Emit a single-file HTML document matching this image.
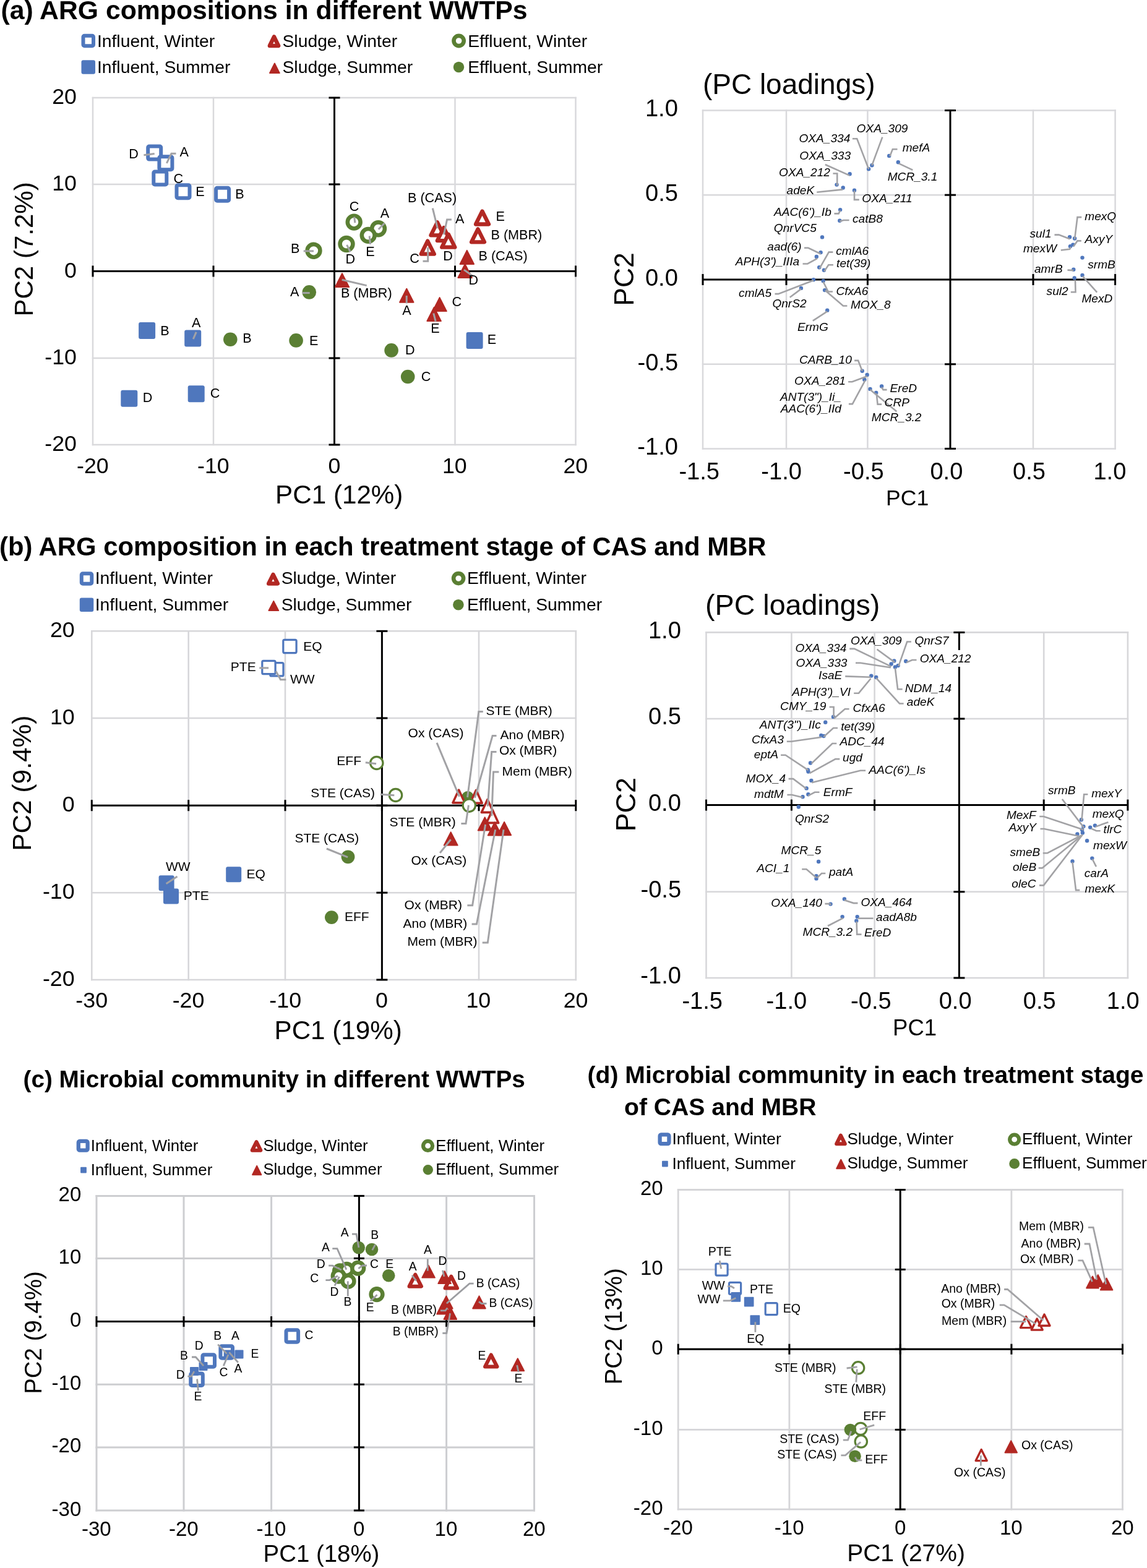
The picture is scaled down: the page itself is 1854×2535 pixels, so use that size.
<!DOCTYPE html>
<html><head><meta charset="utf-8"><title>PCA of ARG compositions and microbial communities</title>
<style>
html,body{margin:0;padding:0;background:#fff;}
svg{display:block;font-family:"Liberation Sans",Arial,Helvetica,sans-serif;}
</style></head><body>
<svg width="1854" height="2535" viewBox="0 0 1854 2535">
<rect width="1854" height="2535" fill="#fff"/>
<text x="1.5" y="31.2" font-size="42.75" text-anchor="start" font-weight="bold">(a) ARG compositions in different WWTPs</text>
<rect x="134.5" y="57.8" width="16.5" height="16.5" rx="2" fill="#fff" stroke="#4F77BD" stroke-width="6"/>
<text x="156.9" y="76" font-size="28.3" text-anchor="start">Influent, Winter</text>
<polygon points="443,59.5 450.1,74 435.9,74" fill="#fff" stroke="#B22823" stroke-width="6.5" stroke-linejoin="round"/>
<text x="456.5" y="76" font-size="28.3" text-anchor="start">Sludge, Winter</text>
<circle cx="741.6" cy="66" r="8.1" fill="#fff" stroke="#5A7F33" stroke-width="6.6"/>
<text x="756.2" y="76" font-size="28.3" text-anchor="start">Effluent, Winter</text>
<rect x="131.5" y="97.2" width="22.5" height="22.5" rx="3" fill="#4F77BD"/>
<text x="156.9" y="118.1" font-size="28.3" text-anchor="start">Influent, Summer</text>
<polygon points="443.9,102.5 451.8,118.1 436,118.1" fill="#B22823" stroke="#B22823" stroke-width="2" stroke-linejoin="round"/>
<text x="456.5" y="118.1" font-size="28.3" text-anchor="start">Sludge, Summer</text>
<circle cx="741.5" cy="108.5" r="8.7" fill="#5A7F33"/>
<text x="756.2" y="118.1" font-size="28.3" text-anchor="start">Effluent, Summer</text>
<line x1="150" y1="156.8" x2="150" y2="720.2" stroke="#D9D9DC" stroke-width="2.5"/>
<line x1="345" y1="156.8" x2="345" y2="720.2" stroke="#D9D9DC" stroke-width="2.5"/>
<line x1="540.5" y1="156.8" x2="540.5" y2="720.2" stroke="#D9D9DC" stroke-width="2.5"/>
<line x1="735.5" y1="156.8" x2="735.5" y2="720.2" stroke="#D9D9DC" stroke-width="2.5"/>
<line x1="930.5" y1="156.8" x2="930.5" y2="720.2" stroke="#D9D9DC" stroke-width="2.5"/>
<line x1="148.8" y1="158" x2="931.8" y2="158" stroke="#D9D9DC" stroke-width="2.5"/>
<line x1="148.8" y1="298" x2="931.8" y2="298" stroke="#D9D9DC" stroke-width="2.5"/>
<line x1="148.8" y1="438.5" x2="931.8" y2="438.5" stroke="#D9D9DC" stroke-width="2.5"/>
<line x1="148.8" y1="579" x2="931.8" y2="579" stroke="#D9D9DC" stroke-width="2.5"/>
<line x1="148.8" y1="719" x2="931.8" y2="719" stroke="#D9D9DC" stroke-width="2.5"/>
<line x1="150" y1="438.5" x2="930.5" y2="438.5" stroke="#000" stroke-width="3"/>
<line x1="540.5" y1="158" x2="540.5" y2="719" stroke="#000" stroke-width="3"/>
<line x1="150" y1="429.5" x2="150" y2="447.5" stroke="#000" stroke-width="3"/>
<line x1="345" y1="429.5" x2="345" y2="447.5" stroke="#000" stroke-width="3"/>
<line x1="540.5" y1="429.5" x2="540.5" y2="447.5" stroke="#000" stroke-width="3"/>
<line x1="735.5" y1="429.5" x2="735.5" y2="447.5" stroke="#000" stroke-width="3"/>
<line x1="930.5" y1="429.5" x2="930.5" y2="447.5" stroke="#000" stroke-width="3"/>
<line x1="531.5" y1="158" x2="549.5" y2="158" stroke="#000" stroke-width="3"/>
<line x1="531.5" y1="298" x2="549.5" y2="298" stroke="#000" stroke-width="3"/>
<line x1="531.5" y1="438.5" x2="549.5" y2="438.5" stroke="#000" stroke-width="3"/>
<line x1="531.5" y1="579" x2="549.5" y2="579" stroke="#000" stroke-width="3"/>
<line x1="531.5" y1="719" x2="549.5" y2="719" stroke="#000" stroke-width="3"/>
<text x="84.2" y="168" font-size="35.7" text-anchor="start">20</text>
<text x="84.2" y="308" font-size="35.7" text-anchor="start">10</text>
<text x="104" y="448.5" font-size="35.7" text-anchor="start">0</text>
<text x="72.3" y="589" font-size="35.7" text-anchor="start">-10</text>
<text x="72.3" y="729" font-size="35.7" text-anchor="start">-20</text>
<text x="124" y="764.5" font-size="35.7" text-anchor="start">-20</text>
<text x="319" y="764.5" font-size="35.7" text-anchor="start">-10</text>
<text x="530.5" y="764.5" font-size="35.7" text-anchor="start">0</text>
<text x="715" y="764.5" font-size="35.7" text-anchor="start">10</text>
<text x="910.4" y="764.5" font-size="35.7" text-anchor="start">20</text>
<text x="445.1" y="814" font-size="42.2" text-anchor="start">PC1 (12%)</text>
<text x="0" y="0" font-size="42.05" transform="translate(53,511.6) rotate(-90)">PC2 (7.2%)</text>
<rect x="239.2" y="236.6" width="21" height="21" rx="2" fill="#fff" stroke="#4F77BD" stroke-width="6"/>
<rect x="257.4" y="253.3" width="21" height="21" rx="2" fill="#fff" stroke="#4F77BD" stroke-width="6"/>
<rect x="248.3" y="277.5" width="21" height="21" rx="2" fill="#fff" stroke="#4F77BD" stroke-width="6"/>
<rect x="285.5" y="299.3" width="21" height="21" rx="2" fill="#fff" stroke="#4F77BD" stroke-width="6"/>
<rect x="349.1" y="303.8" width="21" height="21" rx="2" fill="#fff" stroke="#4F77BD" stroke-width="6"/>
<rect x="224.1" y="521" width="27" height="27" rx="3" fill="#4F77BD"/>
<rect x="298.2" y="533.4" width="27" height="27" rx="3" fill="#4F77BD"/>
<rect x="195.3" y="630.8" width="27" height="27" rx="3" fill="#4F77BD"/>
<rect x="303.7" y="623.3" width="27" height="27" rx="3" fill="#4F77BD"/>
<rect x="753.6" y="537.1" width="27" height="27" rx="3" fill="#4F77BD"/>
<circle cx="572.2" cy="359.1" r="10.4" fill="#fff" stroke="#5A7F33" stroke-width="6.6"/>
<circle cx="611.5" cy="369.8" r="10.4" fill="#fff" stroke="#5A7F33" stroke-width="6.6"/>
<circle cx="595.2" cy="380.4" r="10.4" fill="#fff" stroke="#5A7F33" stroke-width="6.6"/>
<circle cx="560" cy="394.5" r="10.4" fill="#fff" stroke="#5A7F33" stroke-width="6.6"/>
<circle cx="507" cy="405.3" r="10.4" fill="#fff" stroke="#5A7F33" stroke-width="6.6"/>
<circle cx="499.8" cy="472.4" r="11.3" fill="#5A7F33"/>
<circle cx="478.6" cy="550.4" r="11.3" fill="#5A7F33"/>
<circle cx="632.6" cy="566.4" r="11.3" fill="#5A7F33"/>
<circle cx="659.2" cy="609" r="11.3" fill="#5A7F33"/>
<circle cx="372.3" cy="548.7" r="11.3" fill="#5A7F33"/>
<polygon points="706.9,359.3 717.4,380.3 696.4,380.3" fill="#fff" stroke="#B22823" stroke-width="6.3" stroke-linejoin="round"/>
<polygon points="717.3,368.1 727.8,389.1 706.8,389.1" fill="#fff" stroke="#B22823" stroke-width="6.3" stroke-linejoin="round"/>
<polygon points="724.8,378.7 735.3,399.7 714.2,399.7" fill="#fff" stroke="#B22823" stroke-width="6.3" stroke-linejoin="round"/>
<polygon points="691.2,389.6 701.8,410.6 680.7,410.6" fill="#fff" stroke="#B22823" stroke-width="6.3" stroke-linejoin="round"/>
<polygon points="779.5,341.5 790,362.5 769,362.5" fill="#fff" stroke="#B22823" stroke-width="6.3" stroke-linejoin="round"/>
<polygon points="772.5,370.3 783,391.3 762,391.3" fill="#fff" stroke="#B22823" stroke-width="6.3" stroke-linejoin="round"/>
<polygon points="751.6,427 762.8,449 740.4,449" fill="#B22823" stroke="#B22823" stroke-width="2" stroke-linejoin="round"/>
<polygon points="754.8,404.9 766,426.9 743.6,426.9" fill="#B22823" stroke="#B22823" stroke-width="2" stroke-linejoin="round"/>
<polygon points="553,442.1 564.2,464.1 541.8,464.1" fill="#B22823" stroke="#B22823" stroke-width="2" stroke-linejoin="round"/>
<polygon points="657.3,466.7 668.5,488.7 646.1,488.7" fill="#B22823" stroke="#B22823" stroke-width="2" stroke-linejoin="round"/>
<polygon points="710.6,481.1 721.8,503.1 699.4,503.1" fill="#B22823" stroke="#B22823" stroke-width="2" stroke-linejoin="round"/>
<polygon points="701.6,497 712.8,519 690.4,519" fill="#B22823" stroke="#B22823" stroke-width="2" stroke-linejoin="round"/>
<polyline points="232.4,250.7 249.7,248.6" fill="none" stroke="#A2A2A5" stroke-width="3" stroke-linejoin="miter"/>
<polyline points="284.5,248.3 277,248.3 269.4,263.8" fill="none" stroke="#A2A2A5" stroke-width="3" stroke-linejoin="miter"/>
<polyline points="317.2,536.9 312.3,548.1" fill="none" stroke="#A2A2A5" stroke-width="3" stroke-linejoin="miter"/>
<polyline points="572.6,350.6 573.9,360.2" fill="none" stroke="#A2A2A5" stroke-width="3" stroke-linejoin="miter"/>
<polyline points="621.4,361 611.8,370.8" fill="none" stroke="#A2A2A5" stroke-width="3" stroke-linejoin="miter"/>
<polyline points="597.2,381.5 598.5,394.8" fill="none" stroke="#A2A2A5" stroke-width="3" stroke-linejoin="miter"/>
<polyline points="560.6,395.9 566.3,407.2" fill="none" stroke="#A2A2A5" stroke-width="3" stroke-linejoin="miter"/>
<polyline points="490.7,405.9 507,405.9" fill="none" stroke="#A2A2A5" stroke-width="3" stroke-linejoin="miter"/>
<polyline points="683.5,422.3 691.7,422.3 691.7,400.1" fill="none" stroke="#A2A2A5" stroke-width="3" stroke-linejoin="miter"/>
<polyline points="699.3,336.6 707.3,369.2" fill="none" stroke="#A2A2A5" stroke-width="3" stroke-linejoin="miter"/>
<polyline points="729.9,354.9 722.6,354.9 717.5,379.2" fill="none" stroke="#A2A2A5" stroke-width="3" stroke-linejoin="miter"/>
<polyline points="749.9,436.1 764.5,446.5" fill="none" stroke="#A2A2A5" stroke-width="3" stroke-linejoin="miter"/>
<polyline points="488.7,473.6 500.7,473.6" fill="none" stroke="#A2A2A5" stroke-width="3" stroke-linejoin="miter"/>
<polyline points="552.6,452.3 592.7,461.6" fill="none" stroke="#A2A2A5" stroke-width="3" stroke-linejoin="miter"/>
<polyline points="657.2,478 657.2,490.4" fill="none" stroke="#A2A2A5" stroke-width="3" stroke-linejoin="miter"/>
<polyline points="700.8,506.5 704.1,519.5" fill="none" stroke="#A2A2A5" stroke-width="3" stroke-linejoin="miter"/>
<text x="208.3" y="256" font-size="21.6" text-anchor="start">D</text>
<text x="290.5" y="253" font-size="21.6" text-anchor="start">A</text>
<text x="280.4" y="295.5" font-size="21.6" text-anchor="start">C</text>
<text x="316.3" y="316.7" font-size="21.6" text-anchor="start">E</text>
<text x="380.3" y="321" font-size="21.6" text-anchor="start">B</text>
<text x="259.3" y="542" font-size="21.6" text-anchor="start">B</text>
<text x="310" y="529" font-size="21.6" text-anchor="start">A</text>
<text x="230.7" y="649.5" font-size="21.6" text-anchor="start">D</text>
<text x="339.7" y="642.5" font-size="21.6" text-anchor="start">C</text>
<text x="787.8" y="555.7" font-size="21.6" text-anchor="start">E</text>
<text x="564.8" y="340.6" font-size="21.6" text-anchor="start">C</text>
<text x="614.8" y="351.7" font-size="21.6" text-anchor="start">A</text>
<text x="591.2" y="413.9" font-size="21.6" text-anchor="start">E</text>
<text x="558.6" y="425.8" font-size="21.6" text-anchor="start">D</text>
<text x="469.9" y="409.2" font-size="21.6" text-anchor="start">B</text>
<text x="469.1" y="479.4" font-size="21.6" text-anchor="start">A</text>
<text x="499.9" y="557.5" font-size="21.6" text-anchor="start">E</text>
<text x="654.9" y="573.3" font-size="21.6" text-anchor="start">D</text>
<text x="680.7" y="615.6" font-size="21.6" text-anchor="start">C</text>
<text x="392.3" y="554" font-size="21.6" text-anchor="start">B</text>
<text x="659" y="327.3" font-size="21.6" text-anchor="start">B (CAS)</text>
<text x="735.9" y="360.6" font-size="21.6" text-anchor="start">A</text>
<text x="801.5" y="357.3" font-size="21.6" text-anchor="start">E</text>
<text x="793.5" y="387.2" font-size="21.6" text-anchor="start">B (MBR)</text>
<text x="716.2" y="420.5" font-size="21.6" text-anchor="start">D</text>
<text x="662.2" y="425.2" font-size="21.6" text-anchor="start">C</text>
<text x="773.5" y="420.5" font-size="21.6" text-anchor="start">B (CAS)</text>
<text x="757.6" y="459.5" font-size="21.6" text-anchor="start">D</text>
<text x="550.9" y="481.3" font-size="21.6" text-anchor="start">B (MBR)</text>
<text x="650.2" y="509.4" font-size="21.6" text-anchor="start">A</text>
<text x="730.5" y="494.9" font-size="21.6" text-anchor="start">C</text>
<text x="696.2" y="537.5" font-size="21.6" text-anchor="start">E</text>
<line x1="1136" y1="177.2" x2="1136" y2="726.6" stroke="#D9D9DC" stroke-width="2.5"/>
<line x1="1271" y1="177.2" x2="1271" y2="726.6" stroke="#D9D9DC" stroke-width="2.5"/>
<line x1="1402.4" y1="177.2" x2="1402.4" y2="726.6" stroke="#D9D9DC" stroke-width="2.5"/>
<line x1="1670" y1="177.2" x2="1670" y2="726.6" stroke="#D9D9DC" stroke-width="2.5"/>
<line x1="1802.6" y1="177.2" x2="1802.6" y2="726.6" stroke="#D9D9DC" stroke-width="2.5"/>
<line x1="1134.8" y1="178.5" x2="1803.8" y2="178.5" stroke="#D9D9DC" stroke-width="2.5"/>
<line x1="1134.8" y1="315.2" x2="1803.8" y2="315.2" stroke="#D9D9DC" stroke-width="2.5"/>
<line x1="1134.8" y1="588.8" x2="1803.8" y2="588.8" stroke="#D9D9DC" stroke-width="2.5"/>
<line x1="1134.8" y1="725.4" x2="1803.8" y2="725.4" stroke="#D9D9DC" stroke-width="2.5"/>
<line x1="1136" y1="452" x2="1802.6" y2="452" stroke="#000" stroke-width="3"/>
<line x1="1536" y1="178.5" x2="1536" y2="725.4" stroke="#000" stroke-width="3"/>
<line x1="1136" y1="443" x2="1136" y2="461" stroke="#000" stroke-width="3"/>
<line x1="1271" y1="443" x2="1271" y2="461" stroke="#000" stroke-width="3"/>
<line x1="1402.4" y1="443" x2="1402.4" y2="461" stroke="#000" stroke-width="3"/>
<line x1="1670" y1="443" x2="1670" y2="461" stroke="#000" stroke-width="3"/>
<line x1="1802.6" y1="443" x2="1802.6" y2="461" stroke="#000" stroke-width="3"/>
<line x1="1527" y1="178.5" x2="1545" y2="178.5" stroke="#000" stroke-width="3"/>
<line x1="1527" y1="315.2" x2="1545" y2="315.2" stroke="#000" stroke-width="3"/>
<line x1="1527" y1="588.8" x2="1545" y2="588.8" stroke="#000" stroke-width="3"/>
<line x1="1527" y1="725.4" x2="1545" y2="725.4" stroke="#000" stroke-width="3"/>
<text x="1135.9" y="151.5" font-size="46" text-anchor="start">(PC loadings)</text>
<text x="1042.9" y="188.3" font-size="38.1" text-anchor="start">1.0</text>
<text x="1043.1" y="325" font-size="38.1" text-anchor="start">0.5</text>
<text x="1042.9" y="461.8" font-size="38.1" text-anchor="start">0.0</text>
<text x="1030.5" y="598.6" font-size="38.1" text-anchor="start">-0.5</text>
<text x="1030.3" y="735.2" font-size="38.1" text-anchor="start">-1.0</text>
<text x="1097.4" y="774.5" font-size="38.1" text-anchor="start">-1.5</text>
<text x="1230.3" y="774.5" font-size="38.1" text-anchor="start">-1.0</text>
<text x="1363.1" y="774.5" font-size="38.1" text-anchor="start">-0.5</text>
<text x="1503.4" y="774.5" font-size="38.1" text-anchor="start">0.0</text>
<text x="1637" y="774.5" font-size="38.1" text-anchor="start">0.5</text>
<text x="1767.4" y="774.5" font-size="38.1" text-anchor="start">1.0</text>
<text x="1432.1" y="817" font-size="35.5" text-anchor="start">PC1</text>
<text x="0" y="0" font-size="44.5" transform="translate(1023.7,494.7) rotate(-90)">PC2</text>
<circle cx="1409.4" cy="267.2" r="3.2" fill="#4F77BD"/>
<circle cx="1404.1" cy="273.2" r="3.2" fill="#4F77BD"/>
<circle cx="1437.2" cy="251.9" r="3.2" fill="#4F77BD"/>
<circle cx="1451.8" cy="262.3" r="3.2" fill="#4F77BD"/>
<circle cx="1373.6" cy="281.2" r="3.2" fill="#4F77BD"/>
<circle cx="1352.5" cy="298.6" r="3.2" fill="#4F77BD"/>
<circle cx="1362.7" cy="303.5" r="3.2" fill="#4F77BD"/>
<circle cx="1381" cy="307.8" r="3.2" fill="#4F77BD"/>
<circle cx="1358.1" cy="339.1" r="3.2" fill="#4F77BD"/>
<circle cx="1357.3" cy="356.8" r="3.2" fill="#4F77BD"/>
<circle cx="1329" cy="383.4" r="3.2" fill="#4F77BD"/>
<circle cx="1326.6" cy="408.1" r="3.2" fill="#4F77BD"/>
<circle cx="1319.8" cy="414.9" r="3.2" fill="#4F77BD"/>
<circle cx="1324.2" cy="432.3" r="3.2" fill="#4F77BD"/>
<circle cx="1331.9" cy="436.7" r="3.2" fill="#4F77BD"/>
<circle cx="1315" cy="452.2" r="3.2" fill="#4F77BD"/>
<circle cx="1330.7" cy="454.3" r="3.2" fill="#4F77BD"/>
<circle cx="1294.9" cy="465.9" r="3.2" fill="#4F77BD"/>
<circle cx="1333.1" cy="469.1" r="3.2" fill="#4F77BD"/>
<circle cx="1337.2" cy="501.7" r="3.2" fill="#4F77BD"/>
<circle cx="1393.7" cy="599.8" r="3.2" fill="#4F77BD"/>
<circle cx="1401.6" cy="605.9" r="3.2" fill="#4F77BD"/>
<circle cx="1397.3" cy="613.8" r="3.2" fill="#4F77BD"/>
<circle cx="1425.1" cy="624.5" r="3.2" fill="#4F77BD"/>
<circle cx="1406.5" cy="628.9" r="3.2" fill="#4F77BD"/>
<circle cx="1416.2" cy="634.9" r="3.2" fill="#4F77BD"/>
<circle cx="1729.1" cy="383.2" r="3.2" fill="#4F77BD"/>
<circle cx="1737.1" cy="385.5" r="3.2" fill="#4F77BD"/>
<circle cx="1730" cy="398.3" r="3.2" fill="#4F77BD"/>
<circle cx="1734.4" cy="395.6" r="3.2" fill="#4F77BD"/>
<circle cx="1749.5" cy="416.6" r="3.2" fill="#4F77BD"/>
<circle cx="1735.3" cy="435.7" r="3.2" fill="#4F77BD"/>
<circle cx="1749.5" cy="444.9" r="3.2" fill="#4F77BD"/>
<circle cx="1736.7" cy="449.4" r="3.2" fill="#4F77BD"/>
<polyline points="1377.9,224.3 1385.2,224.3 1404.1,273.2" fill="none" stroke="#A2A2A5" stroke-width="2.6" stroke-linejoin="miter"/>
<polyline points="1426.3,221.6 1409.4,267.2" fill="none" stroke="#A2A2A5" stroke-width="2.6" stroke-linejoin="miter"/>
<polyline points="1450.5,241.3 1442.8,241.3 1438.4,252.6" fill="none" stroke="#A2A2A5" stroke-width="2.6" stroke-linejoin="miter"/>
<polyline points="1453,264.3 1475.3,274.9" fill="none" stroke="#A2A2A5" stroke-width="2.6" stroke-linejoin="miter"/>
<polyline points="1333.8,266 1373.1,283.6" fill="none" stroke="#A2A2A5" stroke-width="2.6" stroke-linejoin="miter"/>
<polyline points="1346.4,280.5 1353.2,280.5 1353.2,299.9" fill="none" stroke="#A2A2A5" stroke-width="2.6" stroke-linejoin="miter"/>
<polyline points="1320.3,310.7 1362.2,306.4" fill="none" stroke="#A2A2A5" stroke-width="2.6" stroke-linejoin="miter"/>
<polyline points="1381,308.3 1381,322.9 1388.8,322.9" fill="none" stroke="#A2A2A5" stroke-width="2.6" stroke-linejoin="miter"/>
<polyline points="1348.4,345.4 1355.6,345.4 1358.1,340.3" fill="none" stroke="#A2A2A5" stroke-width="2.6" stroke-linejoin="miter"/>
<polyline points="1372.6,356 1363.4,356 1357.3,358" fill="none" stroke="#A2A2A5" stroke-width="2.6" stroke-linejoin="miter"/>
<polyline points="1300,400.8 1306.5,400.8 1326.6,410.5" fill="none" stroke="#A2A2A5" stroke-width="2.6" stroke-linejoin="miter"/>
<polyline points="1297.5,426.5 1305.3,426.5 1321,417.8" fill="none" stroke="#A2A2A5" stroke-width="2.6" stroke-linejoin="miter"/>
<polyline points="1346.4,407.6 1339.7,407.6 1324.6,434.2" fill="none" stroke="#A2A2A5" stroke-width="2.6" stroke-linejoin="miter"/>
<polyline points="1346.9,428.2 1339.2,428.2 1332.4,438.6" fill="none" stroke="#A2A2A5" stroke-width="2.6" stroke-linejoin="miter"/>
<polyline points="1252.5,475.1 1258.1,475.1 1315,453.3" fill="none" stroke="#A2A2A5" stroke-width="2.6" stroke-linejoin="miter"/>
<polyline points="1276.7,480.7 1294.9,467.1" fill="none" stroke="#A2A2A5" stroke-width="2.6" stroke-linejoin="miter"/>
<polyline points="1346,471.5 1338.7,471.5 1330.7,455.7" fill="none" stroke="#A2A2A5" stroke-width="2.6" stroke-linejoin="miter"/>
<polyline points="1369.4,494.5 1362.9,494.5 1333.8,469.5" fill="none" stroke="#A2A2A5" stroke-width="2.6" stroke-linejoin="miter"/>
<polyline points="1313.8,518.7 1337.2,503.4" fill="none" stroke="#A2A2A5" stroke-width="2.6" stroke-linejoin="miter"/>
<polyline points="1381.1,582.9 1387.1,582.9 1393.7,599.8" fill="none" stroke="#A2A2A5" stroke-width="2.6" stroke-linejoin="miter"/>
<polyline points="1371.1,617.2 1377.4,617.2 1401.6,608.3" fill="none" stroke="#A2A2A5" stroke-width="2.6" stroke-linejoin="miter"/>
<polyline points="1371.9,653.1 1377.9,653.1 1398.5,614.8" fill="none" stroke="#A2A2A5" stroke-width="2.6" stroke-linejoin="miter"/>
<polyline points="1433.6,630.1 1427.6,630.1 1425.1,626" fill="none" stroke="#A2A2A5" stroke-width="2.6" stroke-linejoin="miter"/>
<polyline points="1425.1,653.6 1418.6,653.6 1416.7,636.1" fill="none" stroke="#A2A2A5" stroke-width="2.6" stroke-linejoin="miter"/>
<polyline points="1449.3,665.2 1406.5,630.1" fill="none" stroke="#A2A2A5" stroke-width="2.6" stroke-linejoin="miter"/>
<polyline points="1748.3,351.1 1741.5,351.1 1737.1,386.7" fill="none" stroke="#A2A2A5" stroke-width="2.6" stroke-linejoin="miter"/>
<polyline points="1704.5,379.6 1711.6,379.6 1729.1,386.2" fill="none" stroke="#A2A2A5" stroke-width="2.6" stroke-linejoin="miter"/>
<polyline points="1747.8,389.4 1741.5,389.4 1735.3,398.3" fill="none" stroke="#A2A2A5" stroke-width="2.6" stroke-linejoin="miter"/>
<polyline points="1714.8,404.5 1729.1,402.8 1730.8,399.2" fill="none" stroke="#A2A2A5" stroke-width="2.6" stroke-linejoin="miter"/>
<polyline points="1725.5,436.6 1735.3,437.1" fill="none" stroke="#A2A2A5" stroke-width="2.6" stroke-linejoin="miter"/>
<polyline points="1730.8,472.2 1738.5,472.2 1738,452.6" fill="none" stroke="#A2A2A5" stroke-width="2.6" stroke-linejoin="miter"/>
<polyline points="1773.2,472.7 1750,446.7" fill="none" stroke="#A2A2A5" stroke-width="2.6" stroke-linejoin="miter"/>
<text x="1384.6" y="213.9" font-size="19.1" text-anchor="start" font-style="italic">OXA_309</text>
<text x="1291.5" y="229.6" font-size="19.1" text-anchor="start" font-style="italic">OXA_334</text>
<text x="1458.7" y="245.4" font-size="19.1" text-anchor="start" font-style="italic">mefA</text>
<text x="1434.7" y="291.9" font-size="19.1" text-anchor="start" font-style="italic">MCR_3.1</text>
<text x="1292.3" y="257.5" font-size="19.1" text-anchor="start" font-style="italic">OXA_333</text>
<text x="1259.1" y="284.6" font-size="19.1" text-anchor="start" font-style="italic">OXA_212</text>
<text x="1271.6" y="313.9" font-size="19.1" text-anchor="start" font-style="italic">adeK</text>
<text x="1393.3" y="326.5" font-size="19.1" text-anchor="start" font-style="italic">OXA_211</text>
<text x="1251" y="349" font-size="19.1" text-anchor="start" font-style="italic">AAC(6')_Ib</text>
<text x="1378" y="360.4" font-size="19.1" text-anchor="start" font-style="italic">catB8</text>
<text x="1250.8" y="374.9" font-size="19.1" text-anchor="start" font-style="italic">QnrVC5</text>
<text x="1240.3" y="405.2" font-size="19.1" text-anchor="start" font-style="italic">aad(6)</text>
<text x="1351.2" y="412" font-size="19.1" text-anchor="start" font-style="italic">cmlA6</text>
<text x="1188.7" y="428.7" font-size="19.1" text-anchor="start" font-style="italic">APH(3')_IIIa</text>
<text x="1352.1" y="431.8" font-size="19.1" text-anchor="start" font-style="italic">tet(39)</text>
<text x="1194.1" y="479.5" font-size="19.1" text-anchor="start" font-style="italic">cmlA5</text>
<text x="1248.4" y="497.4" font-size="19.1" text-anchor="start" font-style="italic">QnrS2</text>
<text x="1351.4" y="476.8" font-size="19.1" text-anchor="start" font-style="italic">CfxA6</text>
<text x="1374.9" y="499.3" font-size="19.1" text-anchor="start" font-style="italic">MOX_8</text>
<text x="1288.9" y="534.9" font-size="19.1" text-anchor="start" font-style="italic">ErmG</text>
<text x="1291.9" y="588.2" font-size="19.1" text-anchor="start" font-style="italic">CARB_10</text>
<text x="1284.1" y="621.6" font-size="19.1" text-anchor="start" font-style="italic">OXA_281</text>
<text x="1260.9" y="648.2" font-size="19.1" text-anchor="start" font-style="italic">ANT(3")_Ii_</text>
<text x="1261.8" y="666.9" font-size="19.1" text-anchor="start" font-style="italic">AAC(6')_IId</text>
<text x="1438.6" y="633.7" font-size="19.1" text-anchor="start" font-style="italic">EreD</text>
<text x="1429.6" y="657.2" font-size="19.1" text-anchor="start" font-style="italic">CRP</text>
<text x="1408.8" y="681.4" font-size="19.1" text-anchor="start" font-style="italic">MCR_3.2</text>
<text x="1753.3" y="355.6" font-size="19.1" text-anchor="start" font-style="italic">mexQ</text>
<text x="1664.5" y="383.5" font-size="19.1" text-anchor="start" font-style="italic">sul1</text>
<text x="1753.6" y="393" font-size="19.1" text-anchor="start" font-style="italic">AxyY</text>
<text x="1653.9" y="408.1" font-size="19.1" text-anchor="start" font-style="italic">mexW</text>
<text x="1758.3" y="433.9" font-size="19.1" text-anchor="start" font-style="italic">srmB</text>
<text x="1672" y="440.5" font-size="19.1" text-anchor="start" font-style="italic">amrB</text>
<text x="1691.6" y="476.6" font-size="19.1" text-anchor="start" font-style="italic">sul2</text>
<text x="1748.4" y="489.1" font-size="19.1" text-anchor="start" font-style="italic">MexD</text>
<text x="-0.9" y="898.4" font-size="41.84" text-anchor="start" font-weight="bold">(b) ARG composition in each treatment stage of CAS and MBR</text>
<rect x="131.8" y="927.2" width="16.5" height="16.5" rx="2" fill="#fff" stroke="#4F77BD" stroke-width="6"/>
<text x="153.7" y="944.4" font-size="28.3" text-anchor="start">Influent, Winter</text>
<polygon points="441.5,928.9 448.8,943.4 434.2,943.4" fill="#fff" stroke="#B22823" stroke-width="6.5" stroke-linejoin="round"/>
<text x="454.7" y="944.4" font-size="28.3" text-anchor="start">Sludge, Winter</text>
<circle cx="741.1" cy="935.1" r="8" fill="#fff" stroke="#5A7F33" stroke-width="6.6"/>
<text x="755" y="944.4" font-size="28.3" text-anchor="start">Effluent, Winter</text>
<rect x="128.8" y="966.5" width="22.5" height="22.5" rx="3" fill="#4F77BD"/>
<text x="153.7" y="986.9" font-size="28.3" text-anchor="start">Influent, Summer</text>
<polygon points="442.3,971.9 450.2,987.1 434.4,987.1" fill="#B22823" stroke="#B22823" stroke-width="2" stroke-linejoin="round"/>
<text x="454.7" y="986.9" font-size="28.3" text-anchor="start">Sludge, Summer</text>
<circle cx="740.9" cy="977.7" r="8.8" fill="#5A7F33"/>
<text x="755" y="986.9" font-size="28.3" text-anchor="start">Effluent, Summer</text>
<line x1="148.3" y1="1019" x2="148.3" y2="1585.3" stroke="#D7D7DA" stroke-width="2.6"/>
<line x1="304.7" y1="1019" x2="304.7" y2="1585.3" stroke="#D7D7DA" stroke-width="2.6"/>
<line x1="461" y1="1019" x2="461" y2="1585.3" stroke="#D7D7DA" stroke-width="2.6"/>
<line x1="617.4" y1="1019" x2="617.4" y2="1585.3" stroke="#D7D7DA" stroke-width="2.6"/>
<line x1="774" y1="1019" x2="774" y2="1585.3" stroke="#D7D7DA" stroke-width="2.6"/>
<line x1="930.8" y1="1019" x2="930.8" y2="1585.3" stroke="#D7D7DA" stroke-width="2.6"/>
<line x1="147" y1="1020.3" x2="932.1" y2="1020.3" stroke="#D7D7DA" stroke-width="2.6"/>
<line x1="147" y1="1161" x2="932.1" y2="1161" stroke="#D7D7DA" stroke-width="2.6"/>
<line x1="147" y1="1302.2" x2="932.1" y2="1302.2" stroke="#D7D7DA" stroke-width="2.6"/>
<line x1="147" y1="1443.2" x2="932.1" y2="1443.2" stroke="#D7D7DA" stroke-width="2.6"/>
<line x1="147" y1="1584" x2="932.1" y2="1584" stroke="#D7D7DA" stroke-width="2.6"/>
<line x1="148.3" y1="1302.2" x2="930.8" y2="1302.2" stroke="#000" stroke-width="3"/>
<line x1="617.4" y1="1020.3" x2="617.4" y2="1584" stroke="#000" stroke-width="3"/>
<line x1="148.3" y1="1293.2" x2="148.3" y2="1311.2" stroke="#000" stroke-width="3"/>
<line x1="304.7" y1="1293.2" x2="304.7" y2="1311.2" stroke="#000" stroke-width="3"/>
<line x1="461" y1="1293.2" x2="461" y2="1311.2" stroke="#000" stroke-width="3"/>
<line x1="617.4" y1="1293.2" x2="617.4" y2="1311.2" stroke="#000" stroke-width="3"/>
<line x1="774" y1="1293.2" x2="774" y2="1311.2" stroke="#000" stroke-width="3"/>
<line x1="930.8" y1="1293.2" x2="930.8" y2="1311.2" stroke="#000" stroke-width="3"/>
<line x1="608.4" y1="1020.3" x2="626.4" y2="1020.3" stroke="#000" stroke-width="3"/>
<line x1="608.4" y1="1161" x2="626.4" y2="1161" stroke="#000" stroke-width="3"/>
<line x1="608.4" y1="1302.2" x2="626.4" y2="1302.2" stroke="#000" stroke-width="3"/>
<line x1="608.4" y1="1443.2" x2="626.4" y2="1443.2" stroke="#000" stroke-width="3"/>
<line x1="608.4" y1="1584" x2="626.4" y2="1584" stroke="#000" stroke-width="3"/>
<text x="80.9" y="1030.1" font-size="35.8" text-anchor="start">20</text>
<text x="80.9" y="1170.8" font-size="35.8" text-anchor="start">10</text>
<text x="100.8" y="1312" font-size="35.8" text-anchor="start">0</text>
<text x="68.9" y="1453" font-size="35.8" text-anchor="start">-10</text>
<text x="68.9" y="1593.8" font-size="35.8" text-anchor="start">-20</text>
<text x="122.3" y="1629.3" font-size="35.8" text-anchor="start">-30</text>
<text x="278.7" y="1629.3" font-size="35.8" text-anchor="start">-20</text>
<text x="435.3" y="1629.3" font-size="35.8" text-anchor="start">-10</text>
<text x="607.1" y="1629.3" font-size="35.8" text-anchor="start">0</text>
<text x="753.4" y="1629.3" font-size="35.8" text-anchor="start">10</text>
<text x="910.7" y="1629.3" font-size="35.8" text-anchor="start">20</text>
<text x="443.5" y="1679.8" font-size="42.2" text-anchor="start">PC1 (19%)</text>
<text x="0" y="0" font-size="42.4" transform="translate(49.7,1375.8) rotate(-90)">PC2 (9.4%)</text>
<rect x="457.8" y="1034.3" width="21.3" height="21.3" rx="2" fill="#fff" stroke="#4F77BD" stroke-width="3.2"/>
<rect x="436.7" y="1071.6" width="21.3" height="21.3" rx="2" fill="#fff" stroke="#4F77BD" stroke-width="3.2"/>
<rect x="423.8" y="1068.4" width="21.3" height="21.3" rx="2" fill="#fff" stroke="#4F77BD" stroke-width="3.2"/>
<rect x="256.6" y="1415.3" width="25" height="25" rx="3" fill="#4F77BD"/>
<rect x="264" y="1436.5" width="25" height="25" rx="3" fill="#4F77BD"/>
<rect x="365.2" y="1401.3" width="25" height="25" rx="3" fill="#4F77BD"/>
<circle cx="756" cy="1289" r="10" fill="#5A7F33"/>
<polygon points="741.6,1277.1 751.3,1297.9 731.9,1297.9" fill="#fff" stroke="#B22823" stroke-width="3.6" stroke-linejoin="round"/>
<polygon points="769.5,1277.6 779.2,1298.4 759.8,1298.4" fill="#fff" stroke="#B22823" stroke-width="3.6" stroke-linejoin="round"/>
<polygon points="788,1292.6 797.7,1313.4 778.3,1313.4" fill="#fff" stroke="#B22823" stroke-width="3.6" stroke-linejoin="round"/>
<polygon points="796,1309.6 805.7,1330.4 786.3,1330.4" fill="#fff" stroke="#B22823" stroke-width="3.6" stroke-linejoin="round"/>
<polygon points="783.7,1321.4 794.7,1342.6 772.7,1342.6" fill="#B22823" stroke="#B22823" stroke-width="2" stroke-linejoin="round"/>
<polygon points="799.7,1329.4 810.7,1350.6 788.7,1350.6" fill="#B22823" stroke="#B22823" stroke-width="2" stroke-linejoin="round"/>
<polygon points="815.1,1329 826.1,1350.2 804.1,1350.2" fill="#B22823" stroke="#B22823" stroke-width="2" stroke-linejoin="round"/>
<polygon points="728.7,1345.4 739.7,1366.6 717.7,1366.6" fill="#B22823" stroke="#B22823" stroke-width="2" stroke-linejoin="round"/>
<circle cx="608.8" cy="1233.5" r="10.2" fill="#fff" stroke="#5A7F33" stroke-width="3.2"/>
<circle cx="639.5" cy="1285.5" r="10.2" fill="#fff" stroke="#5A7F33" stroke-width="3.2"/>
<circle cx="758.3" cy="1302.1" r="10.2" fill="#fff" stroke="#5A7F33" stroke-width="3.2"/>
<circle cx="562.5" cy="1385.3" r="10.9" fill="#5A7F33"/>
<circle cx="535.9" cy="1483.1" r="10.9" fill="#5A7F33"/>
<polyline points="419.3,1079.9 434.1,1079.9" fill="none" stroke="#A2A2A5" stroke-width="3" stroke-linejoin="miter"/>
<polyline points="462.3,1098.7 453.5,1098.7 446,1085.1" fill="none" stroke="#A2A2A5" stroke-width="3" stroke-linejoin="miter"/>
<polyline points="268.6,1428.8 286.5,1417.1" fill="none" stroke="#A2A2A5" stroke-width="3" stroke-linejoin="miter"/>
<polyline points="780.8,1150.6 773.8,1150.6 755.6,1289" fill="none" stroke="#A2A2A5" stroke-width="3" stroke-linejoin="miter"/>
<polyline points="706.1,1200.8 742.5,1288" fill="none" stroke="#A2A2A5" stroke-width="3" stroke-linejoin="miter"/>
<polyline points="802.5,1189.6 796.1,1189.6 767.6,1289.8" fill="none" stroke="#A2A2A5" stroke-width="3" stroke-linejoin="miter"/>
<polyline points="802.5,1215.5 794.7,1215.5 788.3,1303.6" fill="none" stroke="#A2A2A5" stroke-width="3" stroke-linejoin="miter"/>
<polyline points="806.4,1248.1 797.5,1248.1 794.8,1319.2" fill="none" stroke="#A2A2A5" stroke-width="3" stroke-linejoin="miter"/>
<polyline points="745.4,1331.5 753,1331.5 757.4,1301.8" fill="none" stroke="#A2A2A5" stroke-width="3" stroke-linejoin="miter"/>
<polyline points="615.1,1284.3 637.3,1285.7" fill="none" stroke="#A2A2A5" stroke-width="3" stroke-linejoin="miter"/>
<polyline points="590.8,1232.8 608.1,1234.7" fill="none" stroke="#A2A2A5" stroke-width="3" stroke-linejoin="miter"/>
<polyline points="527.9,1372 562.1,1385.9" fill="none" stroke="#A2A2A5" stroke-width="3" stroke-linejoin="miter"/>
<polyline points="711.1,1379 728.6,1357.2" fill="none" stroke="#A2A2A5" stroke-width="3" stroke-linejoin="miter"/>
<polyline points="755.4,1463.8 763.6,1463.8 784.6,1333.1" fill="none" stroke="#A2A2A5" stroke-width="3" stroke-linejoin="miter"/>
<polyline points="762.6,1494 770.4,1494 800.7,1341.3" fill="none" stroke="#A2A2A5" stroke-width="3" stroke-linejoin="miter"/>
<polyline points="779.7,1524.1 788.3,1524.1 814,1341.3" fill="none" stroke="#A2A2A5" stroke-width="3" stroke-linejoin="miter"/>
<text x="490.3" y="1051.7" font-size="21" text-anchor="start">EQ</text>
<text x="372.8" y="1085.4" font-size="21" text-anchor="start">PTE</text>
<text x="468.9" y="1104.7" font-size="21" text-anchor="start">WW</text>
<text x="267.9" y="1408.2" font-size="21" text-anchor="start">WW</text>
<text x="296.8" y="1454.5" font-size="21" text-anchor="start">PTE</text>
<text x="398.6" y="1419.5" font-size="21" text-anchor="start">EQ</text>
<text x="785.4" y="1156.2" font-size="21" text-anchor="start">STE (MBR)</text>
<text x="659.6" y="1191.8" font-size="21" text-anchor="start">Ox (CAS)</text>
<text x="808.6" y="1195.2" font-size="21" text-anchor="start">Ano (MBR)</text>
<text x="806.9" y="1219.7" font-size="21" text-anchor="start">Ox (MBR)</text>
<text x="811.6" y="1253.7" font-size="21" text-anchor="start">Mem (MBR)</text>
<text x="629.5" y="1335.8" font-size="21" text-anchor="start">STE (MBR)</text>
<text x="502.2" y="1289.3" font-size="21" text-anchor="start">STE (CAS)</text>
<text x="544.3" y="1237" font-size="21" text-anchor="start">EFF</text>
<text x="664.5" y="1397.9" font-size="21" text-anchor="start">Ox (CAS)</text>
<text x="653.6" y="1469.5" font-size="21" text-anchor="start">Ox (MBR)</text>
<text x="651.5" y="1499.8" font-size="21" text-anchor="start">Ano (MBR)</text>
<text x="658.4" y="1529.2" font-size="21" text-anchor="start">Mem (MBR)</text>
<text x="556.9" y="1488.8" font-size="21" text-anchor="start">EFF</text>
<text x="476.4" y="1362.3" font-size="21" text-anchor="start">STE (CAS)</text>
<line x1="1141.5" y1="1021.1" x2="1141.5" y2="1582.3" stroke="#D7D7DA" stroke-width="2.6"/>
<line x1="1279.4" y1="1021.1" x2="1279.4" y2="1582.3" stroke="#D7D7DA" stroke-width="2.6"/>
<line x1="1413.6" y1="1021.1" x2="1413.6" y2="1582.3" stroke="#D7D7DA" stroke-width="2.6"/>
<line x1="1687.2" y1="1021.1" x2="1687.2" y2="1582.3" stroke="#D7D7DA" stroke-width="2.6"/>
<line x1="1822.9" y1="1021.1" x2="1822.9" y2="1582.3" stroke="#D7D7DA" stroke-width="2.6"/>
<line x1="1140.2" y1="1022.4" x2="1824.2" y2="1022.4" stroke="#D7D7DA" stroke-width="2.6"/>
<line x1="1140.2" y1="1162" x2="1824.2" y2="1162" stroke="#D7D7DA" stroke-width="2.6"/>
<line x1="1140.2" y1="1441.8" x2="1824.2" y2="1441.8" stroke="#D7D7DA" stroke-width="2.6"/>
<line x1="1140.2" y1="1581" x2="1824.2" y2="1581" stroke="#D7D7DA" stroke-width="2.6"/>
<line x1="1141.5" y1="1301.6" x2="1822.9" y2="1301.6" stroke="#000" stroke-width="3"/>
<line x1="1550.4" y1="1022.4" x2="1550.4" y2="1581" stroke="#000" stroke-width="3"/>
<line x1="1141.5" y1="1292.6" x2="1141.5" y2="1310.6" stroke="#000" stroke-width="3"/>
<line x1="1279.4" y1="1292.6" x2="1279.4" y2="1310.6" stroke="#000" stroke-width="3"/>
<line x1="1413.6" y1="1292.6" x2="1413.6" y2="1310.6" stroke="#000" stroke-width="3"/>
<line x1="1687.2" y1="1292.6" x2="1687.2" y2="1310.6" stroke="#000" stroke-width="3"/>
<line x1="1822.9" y1="1292.6" x2="1822.9" y2="1310.6" stroke="#000" stroke-width="3"/>
<line x1="1541.4" y1="1022.4" x2="1559.4" y2="1022.4" stroke="#000" stroke-width="3"/>
<line x1="1541.4" y1="1162" x2="1559.4" y2="1162" stroke="#000" stroke-width="3"/>
<line x1="1541.4" y1="1441.8" x2="1559.4" y2="1441.8" stroke="#000" stroke-width="3"/>
<line x1="1541.4" y1="1581" x2="1559.4" y2="1581" stroke="#000" stroke-width="3"/>
<text x="1140.1" y="994" font-size="46.6" text-anchor="start">(PC loadings)</text>
<text x="1047.9" y="1031.6" font-size="38.1" text-anchor="start">1.0</text>
<text x="1048.1" y="1171.2" font-size="38.1" text-anchor="start">0.5</text>
<text x="1047.9" y="1310.8" font-size="38.1" text-anchor="start">0.0</text>
<text x="1035.5" y="1451" font-size="38.1" text-anchor="start">-0.5</text>
<text x="1035.3" y="1590.2" font-size="38.1" text-anchor="start">-1.0</text>
<text x="1102.4" y="1630.5" font-size="38.1" text-anchor="start">-1.5</text>
<text x="1238.6" y="1630.5" font-size="38.1" text-anchor="start">-1.0</text>
<text x="1375.1" y="1630.5" font-size="38.1" text-anchor="start">-0.5</text>
<text x="1517.7" y="1630.5" font-size="38.1" text-anchor="start">0.0</text>
<text x="1653.8" y="1630.5" font-size="38.1" text-anchor="start">0.5</text>
<text x="1788.8" y="1630.5" font-size="38.1" text-anchor="start">1.0</text>
<text x="1443.1" y="1674.1" font-size="36.5" text-anchor="start">PC1</text>
<text x="0" y="0" font-size="45" transform="translate(1027,1344.4) rotate(-90)">PC2</text>
<circle cx="1445.3" cy="1068.5" r="3.2" fill="#4F77BD"/>
<circle cx="1440.6" cy="1073.5" r="3.2" fill="#4F77BD"/>
<circle cx="1446.9" cy="1078.5" r="3.2" fill="#4F77BD"/>
<circle cx="1451.6" cy="1076.1" r="3.2" fill="#4F77BD"/>
<circle cx="1464.2" cy="1069" r="3.2" fill="#4F77BD"/>
<circle cx="1408.3" cy="1092.6" r="3.2" fill="#4F77BD"/>
<circle cx="1416.2" cy="1095" r="3.2" fill="#4F77BD"/>
<circle cx="1347" cy="1158.9" r="3.2" fill="#4F77BD"/>
<circle cx="1334.2" cy="1167.8" r="3.2" fill="#4F77BD"/>
<circle cx="1327.3" cy="1188.9" r="3.2" fill="#4F77BD"/>
<circle cx="1331.4" cy="1190" r="3.2" fill="#4F77BD"/>
<circle cx="1310" cy="1233.5" r="3.2" fill="#4F77BD"/>
<circle cx="1305.8" cy="1244.6" r="3.2" fill="#4F77BD"/>
<circle cx="1306.5" cy="1247.5" r="3.2" fill="#4F77BD"/>
<circle cx="1311.4" cy="1261.9" r="3.2" fill="#4F77BD"/>
<circle cx="1303.6" cy="1274.4" r="3.2" fill="#4F77BD"/>
<circle cx="1297.5" cy="1288.3" r="3.2" fill="#4F77BD"/>
<circle cx="1306.4" cy="1284.2" r="3.2" fill="#4F77BD"/>
<circle cx="1290.8" cy="1304.5" r="3.2" fill="#4F77BD"/>
<circle cx="1747.9" cy="1325.3" r="3.2" fill="#4F77BD"/>
<circle cx="1751.4" cy="1336.1" r="3.2" fill="#4F77BD"/>
<circle cx="1762.2" cy="1337.6" r="3.2" fill="#4F77BD"/>
<circle cx="1769.9" cy="1334.6" r="3.2" fill="#4F77BD"/>
<circle cx="1749.1" cy="1341.5" r="3.2" fill="#4F77BD"/>
<circle cx="1749.9" cy="1346.4" r="3.2" fill="#4F77BD"/>
<circle cx="1741.4" cy="1348.4" r="3.2" fill="#4F77BD"/>
<circle cx="1757.1" cy="1359.2" r="3.2" fill="#4F77BD"/>
<circle cx="1765.3" cy="1387.6" r="3.2" fill="#4F77BD"/>
<circle cx="1733.5" cy="1392.5" r="3.2" fill="#4F77BD"/>
<circle cx="1323.1" cy="1393" r="3.2" fill="#4F77BD"/>
<circle cx="1319.5" cy="1416.2" r="3.2" fill="#4F77BD"/>
<circle cx="1319.5" cy="1420.4" r="3.2" fill="#4F77BD"/>
<circle cx="1342.5" cy="1461.6" r="3.2" fill="#4F77BD"/>
<circle cx="1364.9" cy="1453.4" r="3.2" fill="#4F77BD"/>
<circle cx="1361.6" cy="1482.1" r="3.2" fill="#4F77BD"/>
<circle cx="1385.7" cy="1482.1" r="3.2" fill="#4F77BD"/>
<circle cx="1384.3" cy="1488.8" r="3.2" fill="#4F77BD"/>
<polyline points="1373.2,1048.9 1381,1048.9 1440.6,1077.7" fill="none" stroke="#A2A2A5" stroke-width="2.6" stroke-linejoin="miter"/>
<polyline points="1383,1071.7 1390.8,1071.7 1439.8,1079.2" fill="none" stroke="#A2A2A5" stroke-width="2.6" stroke-linejoin="miter"/>
<polyline points="1366.2,1093.4 1407.5,1094.8" fill="none" stroke="#A2A2A5" stroke-width="2.6" stroke-linejoin="miter"/>
<polyline points="1380.2,1120.7 1388,1120.7 1407.5,1097" fill="none" stroke="#A2A2A5" stroke-width="2.6" stroke-linejoin="miter"/>
<polyline points="1340.6,1143 1347.6,1143 1347.6,1158.9" fill="none" stroke="#A2A2A5" stroke-width="2.6" stroke-linejoin="miter"/>
<polyline points="1372.6,1146.3 1365.7,1146.3 1348.1,1161.6" fill="none" stroke="#A2A2A5" stroke-width="2.6" stroke-linejoin="miter"/>
<polyline points="1354,1177 1347,1177 1331.4,1191.2" fill="none" stroke="#A2A2A5" stroke-width="2.6" stroke-linejoin="miter"/>
<polyline points="1271.8,1198.7 1279.4,1198.7 1328.1,1191.7" fill="none" stroke="#A2A2A5" stroke-width="2.6" stroke-linejoin="miter"/>
<polyline points="1352.3,1202 1345.4,1202 1311.4,1234.6" fill="none" stroke="#A2A2A5" stroke-width="2.6" stroke-linejoin="miter"/>
<polyline points="1262.1,1220.7 1269.6,1220.7 1306.4,1245.2" fill="none" stroke="#A2A2A5" stroke-width="2.6" stroke-linejoin="miter"/>
<polyline points="1357.3,1227.1 1350.4,1227.1 1308.6,1250.2" fill="none" stroke="#A2A2A5" stroke-width="2.6" stroke-linejoin="miter"/>
<polyline points="1399.1,1245.7 1390.8,1245.7 1312,1265.2" fill="none" stroke="#A2A2A5" stroke-width="2.6" stroke-linejoin="miter"/>
<polyline points="1274.6,1259.1 1282.1,1259.1 1303.6,1275.3" fill="none" stroke="#A2A2A5" stroke-width="2.6" stroke-linejoin="miter"/>
<polyline points="1272.4,1285 1280.2,1285 1297.5,1289.2" fill="none" stroke="#A2A2A5" stroke-width="2.6" stroke-linejoin="miter"/>
<polyline points="1324.5,1280.8 1317,1280.8 1306.4,1286.4" fill="none" stroke="#A2A2A5" stroke-width="2.6" stroke-linejoin="miter"/>
<polyline points="1417.5,1049.7 1446.1,1070.6" fill="none" stroke="#A2A2A5" stroke-width="2.6" stroke-linejoin="miter"/>
<polyline points="1472.9,1037.5 1466.2,1037.5 1452.4,1076.9" fill="none" stroke="#A2A2A5" stroke-width="2.6" stroke-linejoin="miter"/>
<polyline points="1481.5,1067 1474.4,1067 1465,1071.1" fill="none" stroke="#A2A2A5" stroke-width="2.6" stroke-linejoin="miter"/>
<polyline points="1458.7,1114.2 1451.1,1114.2 1446.9,1080" fill="none" stroke="#A2A2A5" stroke-width="2.6" stroke-linejoin="miter"/>
<polyline points="1460.6,1137.5 1454,1137.5 1416.2,1096.2" fill="none" stroke="#A2A2A5" stroke-width="2.6" stroke-linejoin="miter"/>
<polyline points="1716.9,1292 1752.2,1338.4" fill="none" stroke="#A2A2A5" stroke-width="2.6" stroke-linejoin="miter"/>
<polyline points="1758.4,1284.3 1752.2,1284.3 1748.4,1326.9" fill="none" stroke="#A2A2A5" stroke-width="2.6" stroke-linejoin="miter"/>
<polyline points="1680.3,1320 1686.9,1320 1751.4,1341.5" fill="none" stroke="#A2A2A5" stroke-width="2.6" stroke-linejoin="miter"/>
<polyline points="1681.5,1340 1687.6,1340 1743,1351.5" fill="none" stroke="#A2A2A5" stroke-width="2.6" stroke-linejoin="miter"/>
<polyline points="1791.4,1329.2 1770.7,1336.6" fill="none" stroke="#A2A2A5" stroke-width="2.6" stroke-linejoin="miter"/>
<polyline points="1778.7,1343.3 1772.2,1343.3 1763.8,1339.6" fill="none" stroke="#A2A2A5" stroke-width="2.6" stroke-linejoin="miter"/>
<polyline points="1685.8,1379.2 1693,1379.2 1747.6,1350.7" fill="none" stroke="#A2A2A5" stroke-width="2.6" stroke-linejoin="miter"/>
<polyline points="1678.7,1403.4 1684.6,1403.4 1748.4,1350.7" fill="none" stroke="#A2A2A5" stroke-width="2.6" stroke-linejoin="miter"/>
<polyline points="1680,1431.4 1686.9,1431.4 1749.9,1349.2" fill="none" stroke="#A2A2A5" stroke-width="2.6" stroke-linejoin="miter"/>
<polyline points="1771.9,1401.1 1765.7,1388.8" fill="none" stroke="#A2A2A5" stroke-width="2.6" stroke-linejoin="miter"/>
<polyline points="1745.3,1439.1 1739.1,1439.1 1733.5,1393.8" fill="none" stroke="#A2A2A5" stroke-width="2.6" stroke-linejoin="miter"/>
<polyline points="1296.2,1405.3 1303.5,1405.3 1319.5,1418.9" fill="none" stroke="#A2A2A5" stroke-width="2.6" stroke-linejoin="miter"/>
<polyline points="1334.3,1412 1328,1412 1320.7,1419.3" fill="none" stroke="#A2A2A5" stroke-width="2.6" stroke-linejoin="miter"/>
<polyline points="1333.4,1461.1 1340.7,1461.1 1343.4,1462.5" fill="none" stroke="#A2A2A5" stroke-width="2.6" stroke-linejoin="miter"/>
<polyline points="1386.5,1460.1 1379.7,1460.1 1364.9,1455.2" fill="none" stroke="#A2A2A5" stroke-width="2.6" stroke-linejoin="miter"/>
<polyline points="1411.5,1484.7 1387,1484.7" fill="none" stroke="#A2A2A5" stroke-width="2.6" stroke-linejoin="miter"/>
<polyline points="1338,1497 1362.5,1484.3" fill="none" stroke="#A2A2A5" stroke-width="2.6" stroke-linejoin="miter"/>
<polyline points="1392.5,1510.6 1385.2,1510.6 1384.6,1489.7" fill="none" stroke="#A2A2A5" stroke-width="2.6" stroke-linejoin="miter"/>
<rect x="1484" y="1051" width="90" height="27" fill="#fff"/>
<text x="1285.5" y="1054.4" font-size="19.1" text-anchor="start" font-style="italic">OXA_334</text>
<text x="1286.6" y="1077.5" font-size="19.1" text-anchor="start" font-style="italic">OXA_333</text>
<text x="1323.1" y="1098.1" font-size="19.1" text-anchor="start" font-style="italic">IsaE</text>
<text x="1280.2" y="1124.9" font-size="19.1" text-anchor="start" font-style="italic">APH(3')_VI</text>
<text x="1261.1" y="1148.3" font-size="19.1" text-anchor="start" font-style="italic">CMY_19</text>
<text x="1378.5" y="1151.1" font-size="19.1" text-anchor="start" font-style="italic">CfxA6</text>
<text x="1227.8" y="1178.4" font-size="19.1" text-anchor="start" font-style="italic">ANT(3")_IIc</text>
<text x="1359.2" y="1180.6" font-size="19.1" text-anchor="start" font-style="italic">tet(39)</text>
<text x="1214.9" y="1202" font-size="19.1" text-anchor="start" font-style="italic">CfxA3</text>
<text x="1357.5" y="1205.4" font-size="19.1" text-anchor="start" font-style="italic">ADC_44</text>
<text x="1218.8" y="1225.7" font-size="19.1" text-anchor="start" font-style="italic">eptA</text>
<text x="1362.1" y="1231.3" font-size="19.1" text-anchor="start" font-style="italic">ugd</text>
<text x="1404.3" y="1250.8" font-size="19.1" text-anchor="start" font-style="italic">AAC(6')_Is</text>
<text x="1205.5" y="1264.7" font-size="19.1" text-anchor="start" font-style="italic">MOX_4</text>
<text x="1219" y="1289.7" font-size="19.1" text-anchor="start" font-style="italic">mdtM</text>
<text x="1330.8" y="1287" font-size="19.1" text-anchor="start" font-style="italic">ErmF</text>
<text x="1374.9" y="1041.5" font-size="19.1" text-anchor="start" font-style="italic">OXA_309</text>
<text x="1478.5" y="1041.5" font-size="19.1" text-anchor="start" font-style="italic">QnrS7</text>
<text x="1486.7" y="1070.6" font-size="19.1" text-anchor="start" font-style="italic">OXA_212</text>
<text x="1462.8" y="1118.6" font-size="19.1" text-anchor="start" font-style="italic">NDM_14</text>
<text x="1465.8" y="1140.9" font-size="19.1" text-anchor="start" font-style="italic">adeK</text>
<text x="1694" y="1284.3" font-size="19.1" text-anchor="start" font-style="italic">srmB</text>
<text x="1764.2" y="1289.2" font-size="19.1" text-anchor="start" font-style="italic">mexY</text>
<text x="1626.9" y="1324.3" font-size="19.1" text-anchor="start" font-style="italic">MexF</text>
<text x="1765.7" y="1321.5" font-size="19.1" text-anchor="start" font-style="italic">mexQ</text>
<text x="1630.5" y="1343.8" font-size="19.1" text-anchor="start" font-style="italic">AxyY</text>
<text x="1783.6" y="1347.3" font-size="19.1" text-anchor="start" font-style="italic">tlrC</text>
<text x="1767" y="1373" font-size="19.1" text-anchor="start" font-style="italic">mexW</text>
<text x="1632.5" y="1383.8" font-size="19.1" text-anchor="start" font-style="italic">smeB</text>
<text x="1637" y="1408.4" font-size="19.1" text-anchor="start" font-style="italic">oleB</text>
<text x="1752.8" y="1417.6" font-size="19.1" text-anchor="start" font-style="italic">carA</text>
<text x="1635.3" y="1435.3" font-size="19.1" text-anchor="start" font-style="italic">oleC</text>
<text x="1753.5" y="1443" font-size="19.1" text-anchor="start" font-style="italic">mexK</text>
<text x="1284.9" y="1329.6" font-size="19.1" text-anchor="start" font-style="italic">QnrS2</text>
<text x="1262.6" y="1380.8" font-size="19.1" text-anchor="start" font-style="italic">MCR_5</text>
<text x="1223.3" y="1409.8" font-size="19.1" text-anchor="start" font-style="italic">ACI_1</text>
<text x="1339.9" y="1416.2" font-size="19.1" text-anchor="start" font-style="italic">patA</text>
<text x="1246.2" y="1466.1" font-size="19.1" text-anchor="start" font-style="italic">OXA_140</text>
<text x="1391.4" y="1465.2" font-size="19.1" text-anchor="start" font-style="italic">OXA_464</text>
<text x="1416.1" y="1488.8" font-size="19.1" text-anchor="start" font-style="italic">aadA8b</text>
<text x="1297.5" y="1513" font-size="19.1" text-anchor="start" font-style="italic">MCR_3.2</text>
<text x="1396.9" y="1514.3" font-size="19.1" text-anchor="start" font-style="italic">EreD</text>
<text x="37.5" y="1758.3" font-size="38.74" text-anchor="start" font-weight="bold">(c) Microbial community in different WWTPs</text>
<rect x="126.8" y="1844.9" width="14.8" height="14.8" rx="2" fill="#fff" stroke="#4F77BD" stroke-width="6.3"/>
<text x="146.8" y="1860.9" font-size="25.8" text-anchor="start">Influent, Winter</text>
<rect x="130.1" y="1886.8" width="9.8" height="9.8" rx="1" fill="#4F77BD"/>
<text x="146.8" y="1899.7" font-size="25.8" text-anchor="start">Influent, Summer</text>
<polygon points="414.5,1846.1 421.3,1859.7 407.7,1859.7" fill="#fff" stroke="#B22823" stroke-width="6" stroke-linejoin="round"/>
<text x="425.4" y="1861" font-size="25.8" text-anchor="start">Sludge, Winter</text>
<polygon points="415.2,1884.9 422.3,1899.3 408.1,1899.3" fill="#B22823" stroke="#B22823" stroke-width="2" stroke-linejoin="round"/>
<text x="425.4" y="1898.6" font-size="25.8" text-anchor="start">Sludge, Summer</text>
<circle cx="691.6" cy="1852.4" r="7.5" fill="#fff" stroke="#5A7F33" stroke-width="6.2"/>
<text x="704.3" y="1861" font-size="25.8" text-anchor="start">Effluent, Winter</text>
<circle cx="691.8" cy="1891.3" r="8.2" fill="#5A7F33"/>
<text x="704.3" y="1898.6" font-size="25.8" text-anchor="start">Effluent, Summer</text>
<line x1="156" y1="1931.9" x2="156" y2="2443.5" stroke="#CDCED1" stroke-width="3"/>
<line x1="297" y1="1931.9" x2="297" y2="2443.5" stroke="#CDCED1" stroke-width="3"/>
<line x1="438.6" y1="1931.9" x2="438.6" y2="2443.5" stroke="#CDCED1" stroke-width="3"/>
<line x1="580.4" y1="1931.9" x2="580.4" y2="2443.5" stroke="#CDCED1" stroke-width="3"/>
<line x1="721.6" y1="1931.9" x2="721.6" y2="2443.5" stroke="#CDCED1" stroke-width="3"/>
<line x1="863.5" y1="1931.9" x2="863.5" y2="2443.5" stroke="#CDCED1" stroke-width="3"/>
<line x1="154.5" y1="1933.4" x2="865" y2="1933.4" stroke="#CDCED1" stroke-width="3"/>
<line x1="154.5" y1="2034.4" x2="865" y2="2034.4" stroke="#CDCED1" stroke-width="3"/>
<line x1="154.5" y1="2136.6" x2="865" y2="2136.6" stroke="#CDCED1" stroke-width="3"/>
<line x1="154.5" y1="2238.2" x2="865" y2="2238.2" stroke="#CDCED1" stroke-width="3"/>
<line x1="154.5" y1="2339.9" x2="865" y2="2339.9" stroke="#CDCED1" stroke-width="3"/>
<line x1="154.5" y1="2442" x2="865" y2="2442" stroke="#CDCED1" stroke-width="3"/>
<line x1="156" y1="2136.6" x2="863.5" y2="2136.6" stroke="#000" stroke-width="3"/>
<line x1="580.4" y1="1933.4" x2="580.4" y2="2442" stroke="#000" stroke-width="3"/>
<line x1="156" y1="2128.1" x2="156" y2="2145.1" stroke="#000" stroke-width="3"/>
<line x1="297" y1="2128.1" x2="297" y2="2145.1" stroke="#000" stroke-width="3"/>
<line x1="438.6" y1="2128.1" x2="438.6" y2="2145.1" stroke="#000" stroke-width="3"/>
<line x1="580.4" y1="2128.1" x2="580.4" y2="2145.1" stroke="#000" stroke-width="3"/>
<line x1="721.6" y1="2128.1" x2="721.6" y2="2145.1" stroke="#000" stroke-width="3"/>
<line x1="863.5" y1="2128.1" x2="863.5" y2="2145.1" stroke="#000" stroke-width="3"/>
<line x1="571.9" y1="1933.4" x2="588.9" y2="1933.4" stroke="#000" stroke-width="3"/>
<line x1="571.9" y1="2034.4" x2="588.9" y2="2034.4" stroke="#000" stroke-width="3"/>
<line x1="571.9" y1="2136.6" x2="588.9" y2="2136.6" stroke="#000" stroke-width="3"/>
<line x1="571.9" y1="2238.2" x2="588.9" y2="2238.2" stroke="#000" stroke-width="3"/>
<line x1="571.9" y1="2339.9" x2="588.9" y2="2339.9" stroke="#000" stroke-width="3"/>
<line x1="571.9" y1="2442" x2="588.9" y2="2442" stroke="#000" stroke-width="3"/>
<text x="94.6" y="1941.9" font-size="33.1" text-anchor="start">20</text>
<text x="94.6" y="2042.9" font-size="33.1" text-anchor="start">10</text>
<text x="113" y="2145.1" font-size="33.1" text-anchor="start">0</text>
<text x="83.5" y="2246.7" font-size="33.1" text-anchor="start">-10</text>
<text x="83.5" y="2348.4" font-size="33.1" text-anchor="start">-20</text>
<text x="83.5" y="2450.5" font-size="33.1" text-anchor="start">-30</text>
<text x="131.9" y="2483.1" font-size="33.1" text-anchor="start">-30</text>
<text x="272.9" y="2483.1" font-size="33.1" text-anchor="start">-20</text>
<text x="414.5" y="2483.1" font-size="33.1" text-anchor="start">-10</text>
<text x="571.1" y="2483.1" font-size="33.1" text-anchor="start">0</text>
<text x="702.6" y="2483.1" font-size="33.1" text-anchor="start">10</text>
<text x="844.9" y="2483.1" font-size="33.1" text-anchor="start">20</text>
<text x="425.6" y="2525.1" font-size="38.4" text-anchor="start">PC1 (18%)</text>
<text x="0" y="0" font-size="38.45" transform="translate(67.4,2253.8) rotate(-90)">PC2 (9.4%)</text>
<rect x="308.2" y="2220.4" width="19.6" height="19.6" rx="2" fill="#fff" stroke="#4F77BD" stroke-width="6"/>
<rect x="327.4" y="2190.2" width="19.6" height="19.6" rx="2" fill="#fff" stroke="#4F77BD" stroke-width="6"/>
<rect x="356.4" y="2176.2" width="19.6" height="19.6" rx="2" fill="#fff" stroke="#4F77BD" stroke-width="6"/>
<rect x="462.5" y="2150.2" width="19.6" height="19.6" rx="2" fill="#fff" stroke="#4F77BD" stroke-width="6"/>
<rect x="321.5" y="2202" width="14" height="14" rx="1" fill="#4F77BD"/>
<rect x="307" y="2209.9" width="14" height="14" rx="1" fill="#4F77BD"/>
<rect x="361.7" y="2182.5" width="14" height="14" rx="1" fill="#4F77BD"/>
<rect x="379.5" y="2182.5" width="14" height="14" rx="1" fill="#4F77BD"/>
<circle cx="549.5" cy="2055" r="9.4" fill="#fff" stroke="#5A7F33" stroke-width="6.5"/>
<circle cx="560.5" cy="2052.5" r="9.4" fill="#fff" stroke="#5A7F33" stroke-width="6.5"/>
<circle cx="547.2" cy="2063" r="9.4" fill="#fff" stroke="#5A7F33" stroke-width="6.5"/>
<circle cx="563" cy="2071.4" r="9.4" fill="#fff" stroke="#5A7F33" stroke-width="6.5"/>
<circle cx="578.7" cy="2050.2" r="9.4" fill="#fff" stroke="#5A7F33" stroke-width="6.5"/>
<circle cx="609" cy="2092.6" r="9.4" fill="#fff" stroke="#5A7F33" stroke-width="6.5"/>
<circle cx="579.7" cy="2017.1" r="10.3" fill="#5A7F33"/>
<circle cx="601" cy="2020" r="10.3" fill="#5A7F33"/>
<circle cx="628.2" cy="2062.2" r="10.3" fill="#5A7F33"/>
<polygon points="671.3,2060.7 681,2079.7 661.5,2079.7" fill="#fff" stroke="#B22823" stroke-width="6" stroke-linejoin="round"/>
<polygon points="729.3,2063.6 739,2082.6 719.5,2082.6" fill="#fff" stroke="#B22823" stroke-width="6" stroke-linejoin="round"/>
<polygon points="793.7,2190.5 803.5,2209.5 784,2209.5" fill="#fff" stroke="#B22823" stroke-width="6" stroke-linejoin="round"/>
<polygon points="692.6,2045.6 702.9,2065.6 682.3,2065.6" fill="#B22823" stroke="#B22823" stroke-width="2" stroke-linejoin="round"/>
<polygon points="718.6,2055.1 728.9,2075.1 708.3,2075.1" fill="#B22823" stroke="#B22823" stroke-width="2" stroke-linejoin="round"/>
<polygon points="721.3,2095.5 731.6,2115.5 711,2115.5" fill="#B22823" stroke="#B22823" stroke-width="2" stroke-linejoin="round"/>
<polygon points="716.5,2104.5 726.8,2124.5 706.2,2124.5" fill="#B22823" stroke="#B22823" stroke-width="2" stroke-linejoin="round"/>
<polygon points="727.8,2113 738.1,2133 717.5,2133" fill="#B22823" stroke="#B22823" stroke-width="2" stroke-linejoin="round"/>
<polygon points="774.5,2095.4 784.8,2115.4 764.2,2115.4" fill="#B22823" stroke="#B22823" stroke-width="2" stroke-linejoin="round"/>
<polygon points="836.8,2196.3 847.1,2216.3 826.5,2216.3" fill="#B22823" stroke="#B22823" stroke-width="2" stroke-linejoin="round"/>
<polyline points="352.2,2173.6 366.7,2188.6" fill="none" stroke="#9C9DA1" stroke-width="2.8" stroke-linejoin="miter"/>
<polyline points="370.3,2186.3 384.9,2202.7" fill="none" stroke="#9C9DA1" stroke-width="2.8" stroke-linejoin="miter"/>
<polyline points="361.3,2208.1 369,2190" fill="none" stroke="#9C9DA1" stroke-width="2.8" stroke-linejoin="miter"/>
<polyline points="310,2194 316.3,2194 329,2208.1" fill="none" stroke="#9C9DA1" stroke-width="2.8" stroke-linejoin="miter"/>
<polyline points="303.4,2225.2 309.5,2225.2 313.8,2217.2" fill="none" stroke="#9C9DA1" stroke-width="2.8" stroke-linejoin="miter"/>
<polyline points="318.6,2229.5 320.4,2248.5" fill="none" stroke="#9C9DA1" stroke-width="2.8" stroke-linejoin="miter"/>
<polyline points="569,1995.1 576,1995.1 579.9,2016.9" fill="none" stroke="#9C9DA1" stroke-width="2.8" stroke-linejoin="miter"/>
<polyline points="606.5,2012.3 601.7,2021.1" fill="none" stroke="#9C9DA1" stroke-width="2.8" stroke-linejoin="miter"/>
<polyline points="537.3,2018.7 545,2018.7 559.9,2052.6" fill="none" stroke="#9C9DA1" stroke-width="2.8" stroke-linejoin="miter"/>
<polyline points="531.2,2046.2 537.5,2046.2 551.8,2053" fill="none" stroke="#9C9DA1" stroke-width="2.8" stroke-linejoin="miter"/>
<polyline points="526.4,2069.6 532.7,2069.6 546,2062.7" fill="none" stroke="#9C9DA1" stroke-width="2.8" stroke-linejoin="miter"/>
<polyline points="540.9,2078.6 548.4,2064.1" fill="none" stroke="#9C9DA1" stroke-width="2.8" stroke-linejoin="miter"/>
<polyline points="562.3,2095.6 562.3,2071.4" fill="none" stroke="#9C9DA1" stroke-width="2.8" stroke-linejoin="miter"/>
<polyline points="593,2046 586,2046 579.3,2050.8" fill="none" stroke="#9C9DA1" stroke-width="2.8" stroke-linejoin="miter"/>
<polyline points="598.7,2103.5 609.6,2093.2" fill="none" stroke="#9C9DA1" stroke-width="2.8" stroke-linejoin="miter"/>
<polyline points="666,2061.9 672.9,2070.6" fill="none" stroke="#9C9DA1" stroke-width="2.8" stroke-linejoin="miter"/>
<polyline points="691.3,2035.3 691.3,2054.6" fill="none" stroke="#9C9DA1" stroke-width="2.8" stroke-linejoin="miter"/>
<polyline points="715.5,2053.7 717.9,2063.9" fill="none" stroke="#9C9DA1" stroke-width="2.8" stroke-linejoin="miter"/>
<polyline points="765.6,2075.2 758.9,2075.2 721.9,2107.2" fill="none" stroke="#9C9DA1" stroke-width="2.8" stroke-linejoin="miter"/>
<polyline points="786.5,2107.5 778.5,2107.5 773.9,2104.5" fill="none" stroke="#9C9DA1" stroke-width="2.8" stroke-linejoin="miter"/>
<polyline points="711.9,2118.9 719.9,2118.9 723.2,2114.5" fill="none" stroke="#9C9DA1" stroke-width="2.8" stroke-linejoin="miter"/>
<polyline points="715.3,2155.4 721.9,2155.4 727.6,2123.2" fill="none" stroke="#9C9DA1" stroke-width="2.8" stroke-linejoin="miter"/>
<polyline points="835.7,2207.1 838.2,2218.4" fill="none" stroke="#9C9DA1" stroke-width="2.8" stroke-linejoin="miter"/>
<text x="345.2" y="2166.3" font-size="19.3" text-anchor="start">B</text>
<text x="374" y="2166.3" font-size="19.3" text-anchor="start">A</text>
<text x="405.6" y="2195" font-size="19.3" text-anchor="start">E</text>
<text x="354.4" y="2225.4" font-size="19.3" text-anchor="start">C</text>
<text x="378.5" y="2219" font-size="19.3" text-anchor="start">A</text>
<text x="314.8" y="2182.2" font-size="19.3" text-anchor="start">D</text>
<text x="291" y="2198.1" font-size="19.3" text-anchor="start">B</text>
<text x="284.7" y="2228.5" font-size="19.3" text-anchor="start">D</text>
<text x="313.5" y="2264.4" font-size="19.3" text-anchor="start">E</text>
<text x="492.5" y="2164.7" font-size="19.3" text-anchor="start">C</text>
<text x="550.8" y="1998.7" font-size="19.3" text-anchor="start">A</text>
<text x="599.3" y="2003.3" font-size="19.3" text-anchor="start">B</text>
<text x="520" y="2023" font-size="19.3" text-anchor="start">A</text>
<text x="511.8" y="2050.2" font-size="19.3" text-anchor="start">D</text>
<text x="501.2" y="2072.6" font-size="19.3" text-anchor="start">C</text>
<text x="533.6" y="2094.6" font-size="19.3" text-anchor="start">D</text>
<text x="555.4" y="2111.3" font-size="19.3" text-anchor="start">B</text>
<text x="598" y="2050.2" font-size="19.3" text-anchor="start">C</text>
<text x="623.2" y="2050.2" font-size="19.3" text-anchor="start">E</text>
<text x="591.7" y="2119.8" font-size="19.3" text-anchor="start">E</text>
<text x="660.7" y="2053.7" font-size="19.3" text-anchor="start">A</text>
<text x="684.9" y="2026.6" font-size="19.3" text-anchor="start">A</text>
<text x="708.4" y="2045.3" font-size="19.3" text-anchor="start">D</text>
<text x="739.1" y="2069.2" font-size="19.3" text-anchor="start">D</text>
<text x="769.7" y="2081" font-size="19.3" text-anchor="start">B (CAS)</text>
<text x="790.6" y="2113" font-size="19.3" text-anchor="start">B (CAS)</text>
<text x="632.1" y="2124.1" font-size="19.3" text-anchor="start">B (MBR)</text>
<text x="634.8" y="2159" font-size="19.3" text-anchor="start">B (MBR)</text>
<text x="772.5" y="2197.7" font-size="19.3" text-anchor="start">E</text>
<text x="831.5" y="2234.7" font-size="19.3" text-anchor="start">E</text>
<text x="949.6" y="1751.2" font-size="39.08" text-anchor="start" font-weight="bold">(d) Microbial community in each treatment stage</text>
<text x="1009.1" y="1802.7" font-size="39.08" text-anchor="start" font-weight="bold">of CAS and MBR</text>
<rect x="1066.6" y="1834.4" width="14.8" height="14.8" rx="2" fill="#fff" stroke="#4F77BD" stroke-width="6.3"/>
<text x="1086.5" y="1850.4" font-size="26.2" text-anchor="start">Influent, Winter</text>
<rect x="1070" y="1876.8" width="9.8" height="9.8" rx="1" fill="#4F77BD"/>
<text x="1086.5" y="1889.7" font-size="26.2" text-anchor="start">Influent, Summer</text>
<polygon points="1358.9,1835.7 1365.8,1849.3 1352.1,1849.3" fill="#fff" stroke="#B22823" stroke-width="6" stroke-linejoin="round"/>
<text x="1369.4" y="1850.1" font-size="26.2" text-anchor="start">Sludge, Winter</text>
<polygon points="1359.3,1874.8 1366.4,1889.3 1352.2,1889.3" fill="#B22823" stroke="#B22823" stroke-width="2" stroke-linejoin="round"/>
<text x="1369.4" y="1889.1" font-size="26.2" text-anchor="start">Sludge, Summer</text>
<circle cx="1639.7" cy="1842.2" r="7.5" fill="#fff" stroke="#5A7F33" stroke-width="6.2"/>
<text x="1652" y="1850.1" font-size="26.2" text-anchor="start">Effluent, Winter</text>
<circle cx="1639.7" cy="1881.4" r="8.4" fill="#5A7F33"/>
<text x="1652" y="1889.1" font-size="26.2" text-anchor="start">Effluent, Summer</text>
<line x1="1096.2" y1="1922.1" x2="1096.2" y2="2441.6" stroke="#D5D5D8" stroke-width="2.8"/>
<line x1="1275.9" y1="1922.1" x2="1275.9" y2="2441.6" stroke="#D5D5D8" stroke-width="2.8"/>
<line x1="1455.2" y1="1922.1" x2="1455.2" y2="2441.6" stroke="#D5D5D8" stroke-width="2.8"/>
<line x1="1634.9" y1="1922.1" x2="1634.9" y2="2441.6" stroke="#D5D5D8" stroke-width="2.8"/>
<line x1="1814.5" y1="1922.1" x2="1814.5" y2="2441.6" stroke="#D5D5D8" stroke-width="2.8"/>
<line x1="1094.8" y1="1923.5" x2="1815.9" y2="1923.5" stroke="#D5D5D8" stroke-width="2.8"/>
<line x1="1094.8" y1="2052.4" x2="1815.9" y2="2052.4" stroke="#D5D5D8" stroke-width="2.8"/>
<line x1="1094.8" y1="2181.2" x2="1815.9" y2="2181.2" stroke="#D5D5D8" stroke-width="2.8"/>
<line x1="1094.8" y1="2311.4" x2="1815.9" y2="2311.4" stroke="#D5D5D8" stroke-width="2.8"/>
<line x1="1094.8" y1="2440.2" x2="1815.9" y2="2440.2" stroke="#D5D5D8" stroke-width="2.8"/>
<line x1="1096.2" y1="2181.2" x2="1814.5" y2="2181.2" stroke="#000" stroke-width="3"/>
<line x1="1455.2" y1="1923.5" x2="1455.2" y2="2440.2" stroke="#000" stroke-width="3"/>
<line x1="1096.2" y1="2172.7" x2="1096.2" y2="2189.7" stroke="#000" stroke-width="3"/>
<line x1="1275.9" y1="2172.7" x2="1275.9" y2="2189.7" stroke="#000" stroke-width="3"/>
<line x1="1455.2" y1="2172.7" x2="1455.2" y2="2189.7" stroke="#000" stroke-width="3"/>
<line x1="1634.9" y1="2172.7" x2="1634.9" y2="2189.7" stroke="#000" stroke-width="3"/>
<line x1="1814.5" y1="2172.7" x2="1814.5" y2="2189.7" stroke="#000" stroke-width="3"/>
<line x1="1446.7" y1="1923.5" x2="1463.7" y2="1923.5" stroke="#000" stroke-width="3"/>
<line x1="1446.7" y1="2052.4" x2="1463.7" y2="2052.4" stroke="#000" stroke-width="3"/>
<line x1="1446.7" y1="2181.2" x2="1463.7" y2="2181.2" stroke="#000" stroke-width="3"/>
<line x1="1446.7" y1="2311.4" x2="1463.7" y2="2311.4" stroke="#000" stroke-width="3"/>
<line x1="1446.7" y1="2440.2" x2="1463.7" y2="2440.2" stroke="#000" stroke-width="3"/>
<text x="1034.9" y="1932" font-size="33.1" text-anchor="start">20</text>
<text x="1034.9" y="2060.9" font-size="33.1" text-anchor="start">10</text>
<text x="1053.3" y="2189.7" font-size="33.1" text-anchor="start">0</text>
<text x="1023.8" y="2319.9" font-size="33.1" text-anchor="start">-10</text>
<text x="1023.8" y="2448.7" font-size="33.1" text-anchor="start">-20</text>
<text x="1072.1" y="2481.3" font-size="33.1" text-anchor="start">-20</text>
<text x="1251.8" y="2481.3" font-size="33.1" text-anchor="start">-10</text>
<text x="1445.9" y="2481.3" font-size="33.1" text-anchor="start">0</text>
<text x="1615.9" y="2481.3" font-size="33.1" text-anchor="start">10</text>
<text x="1795.9" y="2481.3" font-size="33.1" text-anchor="start">20</text>
<text x="1369.2" y="2523.5" font-size="39" text-anchor="start">PC1 (27%)</text>
<text x="0" y="0" font-size="38.5" transform="translate(1005.4,2238.5) rotate(-90)">PC2 (13%)</text>
<rect x="1157" y="2043" width="19.1" height="19.1" rx="2" fill="#fff" stroke="#4F77BD" stroke-width="3.2"/>
<rect x="1178.5" y="2073.4" width="19.1" height="19.1" rx="2" fill="#fff" stroke="#4F77BD" stroke-width="3.2"/>
<rect x="1237.2" y="2106.6" width="19.1" height="19.1" rx="2" fill="#fff" stroke="#4F77BD" stroke-width="3.2"/>
<rect x="1181.5" y="2089" width="15.7" height="15.7" rx="1" fill="#4F77BD"/>
<rect x="1202.8" y="2096.8" width="15.7" height="15.7" rx="1" fill="#4F77BD"/>
<rect x="1212.5" y="2126.2" width="15.7" height="15.7" rx="1" fill="#4F77BD"/>
<circle cx="1387.1" cy="2211.4" r="9.7" fill="#fff" stroke="#5A7F33" stroke-width="3.2"/>
<circle cx="1391.1" cy="2310" r="9.7" fill="#fff" stroke="#5A7F33" stroke-width="3.2"/>
<circle cx="1391.8" cy="2330.4" r="9.7" fill="#fff" stroke="#5A7F33" stroke-width="3.2"/>
<circle cx="1374.4" cy="2311.5" r="9.8" fill="#5A7F33"/>
<circle cx="1382" cy="2354.3" r="9.8" fill="#5A7F33"/>
<polygon points="1658.5,2128.4 1667.5,2146.6 1649.5,2146.6" fill="#fff" stroke="#B22823" stroke-width="3.4" stroke-linejoin="round"/>
<polygon points="1676.2,2131.9 1685.2,2150.1 1667.2,2150.1" fill="#fff" stroke="#B22823" stroke-width="3.4" stroke-linejoin="round"/>
<polygon points="1688,2125.1 1697,2143.2 1679,2143.2" fill="#fff" stroke="#B22823" stroke-width="3.4" stroke-linejoin="round"/>
<polygon points="1586.2,2343.4 1595.2,2361.6 1577.2,2361.6" fill="#fff" stroke="#B22823" stroke-width="3.4" stroke-linejoin="round"/>
<polygon points="1766,2063.5 1775.8,2082.5 1756.2,2082.5" fill="#B22823" stroke="#B22823" stroke-width="2" stroke-linejoin="round"/>
<polygon points="1774.8,2061.1 1784.5,2080.1 1765,2080.1" fill="#B22823" stroke="#B22823" stroke-width="2" stroke-linejoin="round"/>
<polygon points="1788.6,2066.5 1798.3,2085.5 1778.8,2085.5" fill="#B22823" stroke="#B22823" stroke-width="2" stroke-linejoin="round"/>
<polygon points="1634.2,2329.4 1644,2348.4 1624.5,2348.4" fill="#B22823" stroke="#B22823" stroke-width="2" stroke-linejoin="round"/>
<polyline points="1163.2,2038 1165.7,2051.3" fill="none" stroke="#A2A2A5" stroke-width="2.8" stroke-linejoin="miter"/>
<polyline points="1176.1,2079.7 1182.1,2079.7 1187,2082.8" fill="none" stroke="#A2A2A5" stroke-width="2.8" stroke-linejoin="miter"/>
<polyline points="1168.8,2102.9 1179.7,2102.9 1189.4,2098.5" fill="none" stroke="#A2A2A5" stroke-width="2.8" stroke-linejoin="miter"/>
<polyline points="1220.9,2137.3 1220.9,2153.8" fill="none" stroke="#A2A2A5" stroke-width="2.8" stroke-linejoin="miter"/>
<polyline points="1758.9,1984.3 1767.1,1984.3 1787.7,2076.3" fill="none" stroke="#A2A2A5" stroke-width="2.8" stroke-linejoin="miter"/>
<polyline points="1752.7,2011 1761,2011 1772.7,2069.1" fill="none" stroke="#A2A2A5" stroke-width="2.8" stroke-linejoin="miter"/>
<polyline points="1742.4,2037.8 1750,2037.8 1765.5,2072.2" fill="none" stroke="#A2A2A5" stroke-width="2.8" stroke-linejoin="miter"/>
<polyline points="1623.1,2084.5 1628.6,2084.5 1686.3,2134.5" fill="none" stroke="#A2A2A5" stroke-width="2.8" stroke-linejoin="miter"/>
<polyline points="1615.7,2109.8 1623.1,2109.8 1673.9,2140.1" fill="none" stroke="#A2A2A5" stroke-width="2.8" stroke-linejoin="miter"/>
<polyline points="1633.8,2136.6 1658.5,2136.6" fill="none" stroke="#A2A2A5" stroke-width="2.8" stroke-linejoin="miter"/>
<polyline points="1368.6,2212 1385.6,2209.8" fill="none" stroke="#A2A2A5" stroke-width="2.8" stroke-linejoin="miter"/>
<polyline points="1383.8,2234.5 1385.3,2213.7" fill="none" stroke="#A2A2A5" stroke-width="2.8" stroke-linejoin="miter"/>
<polyline points="1413.2,2303.8 1389.6,2311" fill="none" stroke="#A2A2A5" stroke-width="2.8" stroke-linejoin="miter"/>
<polyline points="1362.8,2328.2 1370.5,2328.2 1375.8,2313.7" fill="none" stroke="#A2A2A5" stroke-width="2.8" stroke-linejoin="miter"/>
<polyline points="1359.4,2352.9 1366.4,2352.9 1391.1,2331.4" fill="none" stroke="#A2A2A5" stroke-width="2.8" stroke-linejoin="miter"/>
<polyline points="1393.3,2360.9 1385.3,2360.9 1382.1,2355.8" fill="none" stroke="#A2A2A5" stroke-width="2.8" stroke-linejoin="miter"/>
<polyline points="1585.4,2353 1585.4,2369.7" fill="none" stroke="#A2A2A5" stroke-width="2.8" stroke-linejoin="miter"/>
<text x="1144.7" y="2030" font-size="19.5" text-anchor="start">PTE</text>
<text x="1134.8" y="2085.2" font-size="19.5" text-anchor="start">WW</text>
<text x="1127.6" y="2107" font-size="19.5" text-anchor="start">WW</text>
<text x="1212" y="2090.6" font-size="19.5" text-anchor="start">PTE</text>
<text x="1265.8" y="2121.5" font-size="19.5" text-anchor="start">EQ</text>
<text x="1207.2" y="2171.2" font-size="19.5" text-anchor="start">EQ</text>
<text x="1647" y="1988.8" font-size="19.5" text-anchor="start">Mem (MBR)</text>
<text x="1650.6" y="2016.6" font-size="19.5" text-anchor="start">Ano (MBR)</text>
<text x="1648.9" y="2042.3" font-size="19.5" text-anchor="start">Ox (MBR)</text>
<text x="1521.2" y="2089.7" font-size="19.5" text-anchor="start">Ano (MBR)</text>
<text x="1521.7" y="2114.4" font-size="19.5" text-anchor="start">Ox (MBR)</text>
<text x="1522.1" y="2141.5" font-size="19.5" text-anchor="start">Mem (MBR)</text>
<text x="1251.9" y="2217.8" font-size="19.5" text-anchor="start">STE (MBR)</text>
<text x="1332.4" y="2251.5" font-size="19.5" text-anchor="start">STE (MBR)</text>
<text x="1395.3" y="2295.5" font-size="19.5" text-anchor="start">EFF</text>
<text x="1260.2" y="2332.8" font-size="19.5" text-anchor="start">STE (CAS)</text>
<text x="1256.2" y="2357.5" font-size="19.5" text-anchor="start">STE (CAS)</text>
<text x="1398.2" y="2365.7" font-size="19.5" text-anchor="start">EFF</text>
<text x="1651" y="2343.3" font-size="19.5" text-anchor="start">Ox (CAS)</text>
<text x="1542.1" y="2386.9" font-size="19.5" text-anchor="start">Ox (CAS)</text>
</svg>
</body></html>
